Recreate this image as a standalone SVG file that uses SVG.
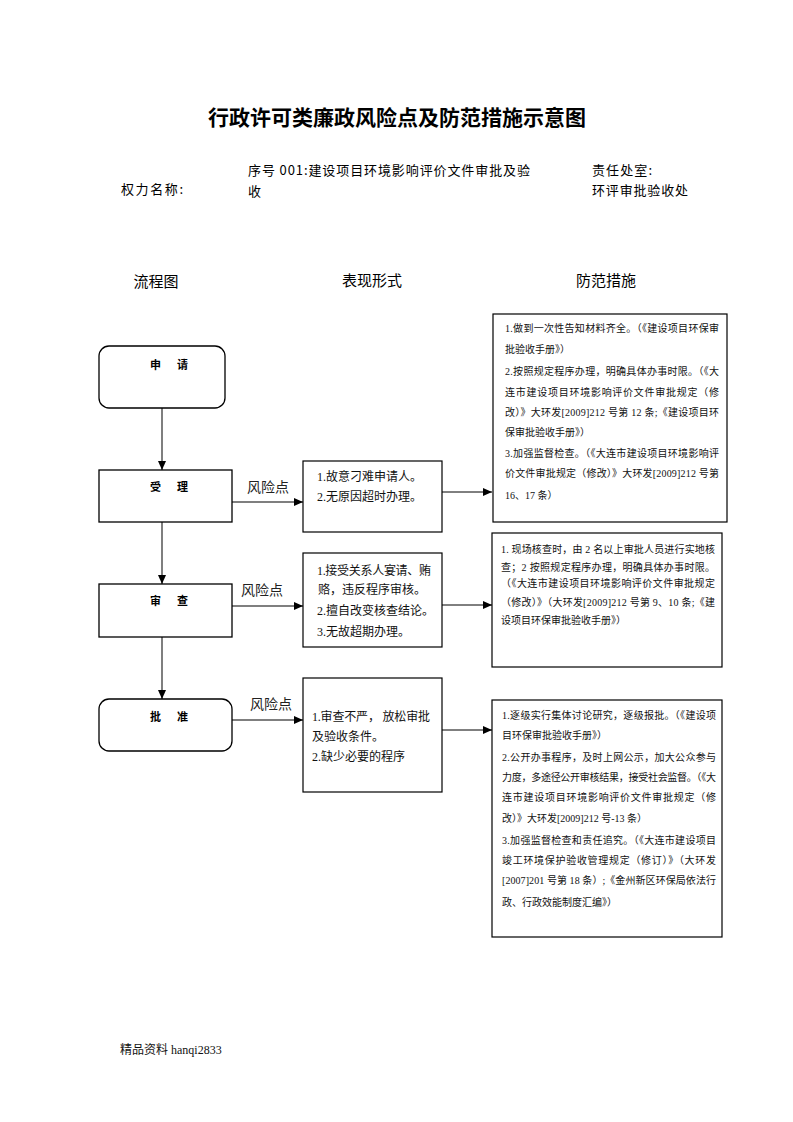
<svg xmlns="http://www.w3.org/2000/svg" width="793" height="1122" viewBox="0 0 793 1122">
<style>
.bg{fill:#fff}
.box{fill:#fff;stroke:#000;stroke-width:1.2}
.node{fill:#fff;stroke:#000;stroke-width:1.3}
.nl{font-family:"Noto Sans CJK SC",sans-serif;font-size:11px;font-weight:bold;fill:#000}
.t{font-family:"Liberation Serif","Noto Sans CJK SC",serif;font-size:12px;fill:#111}
.s{font-family:"Liberation Serif","Noto Sans CJK SC",serif;font-size:10px;fill:#111}
.h{font-family:"Noto Sans CJK SC",sans-serif;font-size:15px;fill:#000}
.r{font-family:"Noto Sans CJK SC",sans-serif;font-size:14px;fill:#222}
.hd{font-family:"Noto Sans CJK SC",sans-serif;font-size:13px;fill:#000}
.title{font-family:"Noto Sans CJK SC",sans-serif;font-size:21px;font-weight:bold;fill:#000}
.c1{stroke:#555;stroke-width:1.5;fill:none}
.c2{stroke:#000;stroke-width:1;fill:none}
</style>
<defs>
<marker id="ah" markerWidth="9" markerHeight="8" refX="9" refY="4" orient="auto" markerUnits="userSpaceOnUse">
<path d="M0,0 L9,4 L0,8 Z" fill="#000"/>
</marker>
</defs>
<rect class="bg" x="0" y="0" width="793" height="1122"/>

<text class="title" x="397" y="125" text-anchor="middle">行政许可类廉政风险点及防范措施示意图</text>

<g id="header">
<text class="hd" x="121" y="194" textLength="62" lengthAdjust="spacing">权力名称:</text>
<text class="hd" x="248" y="175" textLength="282" lengthAdjust="spacing">序号 001:建设项目环境影响评价文件审批及验</text>
<text class="hd" x="248" y="196">收</text>
<text class="hd" x="592" y="175" textLength="60" lengthAdjust="spacing">责任处室:</text>
<text class="hd" x="592" y="195" textLength="96" lengthAdjust="spacing">环评审批验收处</text>
</g>

<g id="columns">
<text class="h" x="156" y="287" text-anchor="middle">流程图</text>
<text class="h" x="372" y="286" text-anchor="middle">表现形式</text>
<text class="h" x="606" y="286" text-anchor="middle">防范措施</text>
</g>

<g id="connectors">
<line class="c1" x1="162" y1="408" x2="162" y2="470" marker-end="url(#ah)"/>
<line class="c1" x1="162" y1="522" x2="162" y2="584" marker-end="url(#ah)"/>
<line class="c1" x1="162" y1="637" x2="162" y2="699" marker-end="url(#ah)"/>
<line class="c1" x1="232" y1="502" x2="303" y2="502" marker-end="url(#ah)"/>
<line class="c1" x1="232" y1="606" x2="303" y2="606" marker-end="url(#ah)"/>
<line class="c1" x1="232" y1="720" x2="303" y2="720" marker-end="url(#ah)"/>
<line class="c2" x1="442" y1="492" x2="492" y2="492" marker-end="url(#ah)"/>
<line class="c2" x1="442" y1="605" x2="492" y2="605" marker-end="url(#ah)"/>
<line class="c2" x1="442" y1="730" x2="492" y2="730" marker-end="url(#ah)"/>
<text class="r" x="247" y="492">风险点</text>
<text class="r" x="241" y="595">风险点</text>
<text class="r" x="250" y="709">风险点</text>
</g>

<g id="n-shenqing">
<rect class="node" x="99" y="346" width="126" height="62" rx="10"/>
<text class="nl" x="150" y="369">申</text>
<text class="nl" x="177" y="369">请</text>
</g>
<g id="n-shouli">
<rect class="node" x="99" y="470" width="133" height="52"/>
<text class="nl" x="150" y="491">受</text>
<text class="nl" x="177" y="491">理</text>
</g>
<g id="n-shencha">
<rect class="node" x="99" y="584" width="133" height="53"/>
<text class="nl" x="150" y="605">审</text>
<text class="nl" x="177" y="605">查</text>
</g>
<g id="n-pizhun">
<rect class="node" x="99" y="699" width="133" height="52" rx="10"/>
<text class="nl" x="150" y="721">批</text>
<text class="nl" x="177" y="721">准</text>
</g>

<g id="risk1">
<rect class="box" x="303" y="461" width="139" height="71"/>
<text class="t" x="317" y="481">1.故意刁难申请人。</text>
<text class="t" x="317" y="501">2.无原因超时办理。</text>
</g>
<g id="risk2">
<rect class="box" x="303" y="553" width="139" height="94"/>
<text class="t" x="317" y="575" textLength="114" lengthAdjust="spacing">1.接受关系人宴请、贿</text>
<text class="t" x="318" y="594">赂，违反程序审核。</text>
<text class="t" x="317" y="615">2.擅自改变核查结论。</text>
<text class="t" x="317" y="636">3.无故超期办理。</text>
</g>
<g id="risk3">
<rect class="box" x="303" y="678" width="139" height="114"/>
<text class="t" x="312" y="721" textLength="118" lengthAdjust="spacing">1.审查不严， 放松审批</text>
<text class="t" x="312" y="741">及验收条件。</text>
<text class="t" x="312" y="761">2.缺少必要的程序</text>
</g>

<g id="measure1">
<rect class="box" x="493" y="314" width="234" height="208"/>
<text class="s" x="505" y="332" textLength="214" lengthAdjust="spacing">1.做到一次性告知材料齐全。（《建设项目环保审</text>
<text class="s" x="505" y="353">批验收手册》）</text>
<text class="s" x="505" y="375" textLength="214" lengthAdjust="spacing">2.按照规定程序办理，明确具体办事时限。（《大</text>
<text class="s" x="505" y="396" textLength="214" lengthAdjust="spacing">连市建设项目环境影响评价文件审批规定（修</text>
<text class="s" x="505" y="416" textLength="214" lengthAdjust="spacing">改）》大环发[2009]212 号第 12 条;《建设项目环</text>
<text class="s" x="505" y="436">保审批验收手册》）</text>
<text class="s" x="505" y="457" textLength="214" lengthAdjust="spacing">3.加强监督检查。（《大连市建设项目环境影响评</text>
<text class="s" x="505" y="477" textLength="214" lengthAdjust="spacing">价文件审批规定（修改）》大环发[2009]212 号第</text>
<text class="s" x="505" y="499">16、17 条）</text>
</g>
<g id="measure2">
<rect class="box" x="492" y="533" width="230" height="134"/>
<text class="s" x="501" y="553" textLength="214" lengthAdjust="spacing">1. 现场核查时，由 2 名以上审批人员进行实地核</text>
<text class="s" x="501" y="571" textLength="214" lengthAdjust="spacing">查；2 按照规定程序办理，明确具体办事时限。</text>
<text class="s" x="501" y="587" textLength="214" lengthAdjust="spacing">（《大连市建设项目环境影响评价文件审批规定</text>
<text class="s" x="501" y="606" textLength="214" lengthAdjust="spacing">（修改）》（大环发[2009]212 号第 9、10 条;《建</text>
<text class="s" x="501" y="624">设项目环保审批验收手册》）</text>
</g>
<g id="measure3">
<rect class="box" x="492" y="700" width="230" height="237"/>
<text class="s" x="502" y="719" textLength="214" lengthAdjust="spacing">1.逐级实行集体讨论研究，逐级报批。（《建设项</text>
<text class="s" x="502" y="739">目环保审批验收手册》）</text>
<text class="s" x="502" y="761" textLength="214" lengthAdjust="spacing">2.公开办事程序，及时上网公示，加大公众参与</text>
<text class="s" x="502" y="781" textLength="214" lengthAdjust="spacing">力度，多途径公开审核结果，接受社会监督。（《大</text>
<text class="s" x="502" y="801" textLength="214" lengthAdjust="spacing">连市建设项目环境影响评价文件审批规定（修</text>
<text class="s" x="502" y="822">改）》大环发[2009]212 号-13 条）</text>
<text class="s" x="502" y="844" textLength="214" lengthAdjust="spacing">3.加强监督检查和责任追究。（《大连市建设项目</text>
<text class="s" x="502" y="864" textLength="214" lengthAdjust="spacing">竣工环境保护验收管理规定（修订）》（大环发</text>
<text class="s" x="502" y="884" textLength="214" lengthAdjust="spacing">[2007]201 号第 18 条）;《金州新区环保局依法行</text>
<text class="s" x="502" y="906">政、行政效能制度汇编》）</text>
</g>

<text class="t" x="120" y="1054">精品资料 hanqi2833</text>
</svg>
